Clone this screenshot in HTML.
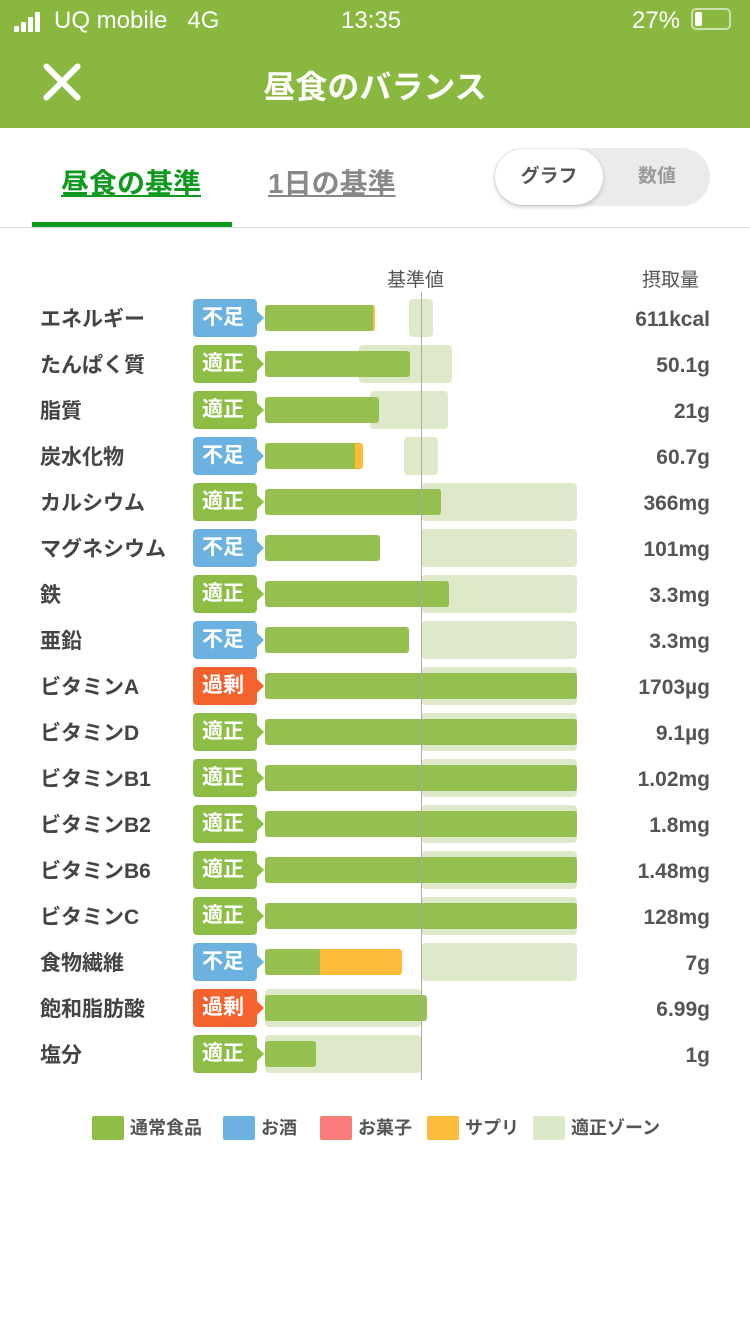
<!DOCTYPE html>
<html><head><meta charset="utf-8"><style>
body{margin:0;width:750px;height:1334px;background:#fff;font-family:"Liberation Sans","Noto Sans CJK JP",sans-serif;position:relative;overflow:hidden}
.abs{position:absolute}
#hdr{left:0;top:0;width:750px;height:128px;background:#8ab73f;color:#fff}
.lbl{position:absolute;left:40px;font-size:21px;font-weight:bold;color:#444;line-height:24px}
.val{position:absolute;right:40px;font-size:21px;font-weight:bold;color:#555;line-height:24px;text-align:right}
.badge{position:absolute;left:193px;width:64px;height:38px;border-radius:4px;color:#fff;font-size:21px;font-weight:bold;text-align:center;line-height:38px;box-sizing:border-box;padding-right:4px}
.badge::after{content:"";position:absolute;right:-7px;top:12px;border-left:7px solid;border-left-color:inherit;border-top:7px solid transparent;border-bottom:7px solid transparent}
.leg{position:absolute;top:1116px;font-size:18px;font-weight:bold;color:#555;line-height:24px}
.sw{display:inline-block;width:32px;height:24px;vertical-align:top;margin-right:6px;border-radius:2px}
</style></head><body>
<div id="hdr" class="abs">
 <div class="abs" style="left:14px;top:12px">
  <span style="position:absolute;left:0;top:14px;width:5px;height:6px;background:#fff;border-radius:1px"></span>
  <span style="position:absolute;left:7px;top:10px;width:5px;height:10px;background:#fff;border-radius:1px"></span>
  <span style="position:absolute;left:14px;top:5px;width:5px;height:15px;background:#fff;border-radius:1px"></span>
  <span style="position:absolute;left:21px;top:0;width:5px;height:20px;background:#fff;border-radius:1px"></span>
 </div>
 <div class="abs" style="left:54px;top:7px;font-size:24px">UQ mobile&nbsp;&nbsp;&nbsp;4G</div>
 <div class="abs" style="left:341px;top:7px;font-size:24px">13:35</div>
 <div class="abs" style="left:632px;top:7px;font-size:24px">27%</div>
 <div class="abs" style="left:691px;top:8px;width:40px;height:22px;border:2px solid #cfe0b0;border-radius:5px;box-sizing:border-box"><div style="margin:2px;width:7px;height:14px;background:#fff;border-radius:2px"></div></div>
 <div class="abs" style="left:40px;top:60px;width:44px;height:44px">
  <div style="position:absolute;left:19px;top:-3px;width:6px;height:50px;background:#fff;border-radius:3px;transform:rotate(45deg)"></div>
  <div style="position:absolute;left:19px;top:-3px;width:6px;height:50px;background:#fff;border-radius:3px;transform:rotate(-45deg)"></div>
 </div>
 <div class="abs" style="left:0;width:750px;top:62px;text-align:center;font-size:32px;font-weight:bold">昼食のバランス</div>
</div>
<div class="abs" style="left:61px;top:162px;font-size:28px;font-weight:bold;color:#0f9a1f;text-decoration:underline">昼食の基準</div>
<div class="abs" style="left:32px;top:222px;width:200px;height:5px;background:#0f9a1f"></div>
<div class="abs" style="left:268px;top:162px;font-size:28px;font-weight:bold;color:#888;text-decoration:underline">1日の基準</div>
<div class="abs" style="left:494px;top:148px;width:216px;height:58px;border-radius:29px;background:#ebebed">
 <div style="position:absolute;left:1px;top:1px;width:108px;height:56px;border-radius:28px;background:#fff;box-shadow:0 2px 5px rgba(0,0,0,.2);text-align:center;line-height:56px;font-size:19px;font-weight:bold;color:#555">グラフ</div>
 <div style="position:absolute;left:110px;top:0;width:106px;text-align:center;line-height:58px;font-size:19px;font-weight:bold;color:#999">数値</div>
</div>
<div class="abs" style="left:0;top:227px;width:750px;height:1px;background:#ddd"></div>
<div class="abs" style="left:387px;top:265px;font-size:19px;color:#555">基準値</div>
<div class="abs" style="left:642px;top:265px;font-size:19px;color:#555">摂取量</div>
<div id="chart"></div>
<div class="abs" style="left:421px;top:292px;width:1px;height:788px;background:#aaa"></div>
<div class="leg" style="left:92px"><span class="sw" style="background:#8dbd44"></span>通常食品</div>
<div class="leg" style="left:223px"><span class="sw" style="background:#6cb2e0"></span>お酒</div>
<div class="leg" style="left:320px"><span class="sw" style="background:#fb7b7b"></span>お菓子</div>
<div class="leg" style="left:427px"><span class="sw" style="background:#fcbb3a"></span>サプリ</div>
<div class="leg" style="left:533px"><span class="sw" style="background:#dbe9c7"></span>適正ゾーン</div>
<script>
const nutrients=["エネルギー","たんぱく質","脂質","炭水化物","カルシウム","マグネシウム","鉄","亜鉛","ビタミンA","ビタミンD","ビタミンB1","ビタミンB2","ビタミンB6","ビタミンC","食物繊維","飽和脂肪酸","塩分"];
const statuses=["不足","適正","適正","不足","適正","不足","適正","不足","過剰","適正","適正","適正","適正","適正","不足","過剰","適正"];
const foodPct=[69,93,73,58,113,74,118,92,200,200,200,200,200,200,35,104,33];
const suppPct=[1.3,0,0,4.5,0,0,0,0,0,0,0,0,0,0,52.5,0,0];
const zoneLow=[92,60,67,89,100,100,100,100,100,100,100,100,100,100,100,0,0];
const zoneHigh=[108,120,117,111,200,200,200,200,200,200,200,200,200,200,200,100,100];
const intake=["611kcal","50.1g","21g","60.7g","366mg","101mg","3.3mg","3.3mg","1703µg","9.1µg","1.02mg","1.8mg","1.48mg","128mg","7g","6.99g","1g"];
const X0=265,X100=421,MAXP=200;
function xs(p){return X0+(X100-X0)*Math.min(p,MAXP)/100;}
function yc(i){return 318+46*i;}
const badgeColor={"不足":"#6cb2e0","適正":"#8dbd44","過剰":"#f4622e"};
const chart=document.getElementById('chart');
function box(l,t,w,h,bg,r){const d=document.createElement('div');d.style.cssText=`position:absolute;left:${l}px;top:${t}px;width:${w}px;height:${h}px;background:${bg};border-radius:${r}px`;chart.appendChild(d);return d;}
nutrients.forEach((n,i)=>{
 const y=yc(i);
 const z=box(xs(zoneLow[i]),y-19,xs(zoneHigh[i])-xs(zoneLow[i]),38,'#dde9c8',4);
 
 
 const total=foodPct[i]+suppPct[i];
 if(suppPct[i]>0){const s=box(X0,y-13,xs(total)-X0,26,'#fcbb3a',3);
 
 }
 const f=box(X0,y-13,xs(foodPct[i])-X0,26,'#95bf4f',3);
 if(suppPct[i]>0){f.style.borderTopRightRadius='0';f.style.borderBottomRightRadius='0';}
 
 
 const l=document.createElement('div');l.className='lbl';l.style.top=(y-10)+'px';l.textContent=n;
 
 
 chart.appendChild(l);
 const b=document.createElement('div');b.className='badge';b.style.top=(y-19)+'px';b.style.background=badgeColor[statuses[i]];b.style.borderLeftColor=badgeColor[statuses[i]];b.textContent=statuses[i];
 
 
 chart.appendChild(b);
 const v=document.createElement('div');v.className='val';v.style.top=(y-10)+'px';v.textContent=intake[i];
 
 
 chart.appendChild(v);
});
</script>
</body></html>
